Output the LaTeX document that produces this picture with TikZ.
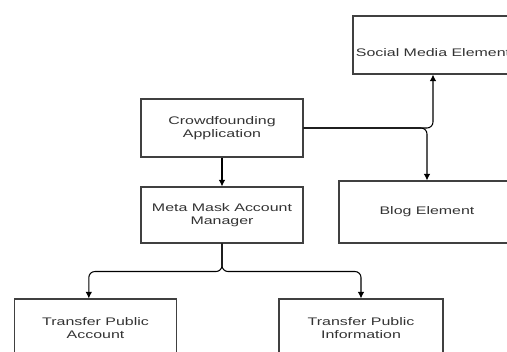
\documentclass[tikz,border=0pt]{standalone}
\usepackage{fontspec}
\usepackage{tikz}
\usetikzlibrary{arrows.meta}
\usetikzlibrary{positioning}
\newfontfamily\boxfont[FakeStretch=1.45]{Liberation Sans}

\begin{document}
\begin{tikzpicture}[x=0.75pt,y=0.75pt,yscale=-1,xscale=1,
  box/.style={draw=black!75,line width=0.8pt,inner sep=0pt,align=center,text=black!80,
    font=\boxfont\fontsize{8.25}{9.75}\selectfont},
  link/.style={draw=black,line width=0.8pt,rounded corners=4.5pt,-{Latex[length=5pt,width=5pt]}}]
\useasboundingbox (0,0) rectangle (507,352);
\clip (0,0) rectangle (507,352);

% Boxes
\node [box,minimum width=121.5pt,minimum height=43.5pt] (crowd) at (222,128) {Crowdfounding\\Application};
\node [box,minimum width=121.5pt,minimum height=42pt] (meta) at (222,215) {Meta Mask Account\\Manager};
\node [box,minimum width=120pt,minimum height=43.5pt,text height=18pt,text depth=0pt] (social) at (433,45) {Social Media Element};
\node [box,minimum width=132pt,minimum height=46.5pt] (blog) at (427,212) {Blog Element};
\node [box,minimum width=122pt,minimum height=43.5pt] (acct) at (95.5,328) {Transfer Public\\Account};
\node [box,minimum width=123pt,minimum height=43.5pt] (info) at (361,328) {Transfer Public\\Information};

% Connectors
\draw [link] (crowd.south) -- (meta.north);
\draw [link] (crowd.east) -| (social.south);
\draw [link] (crowd.east) -| (blog.north);
\draw [link] (meta.south) -- ++(0,28) -| ([xshift=-5pt]acct.north);
\draw [link] (meta.south) -- ++(0,28) -| (info.north);

\end{tikzpicture}
\end{document}
